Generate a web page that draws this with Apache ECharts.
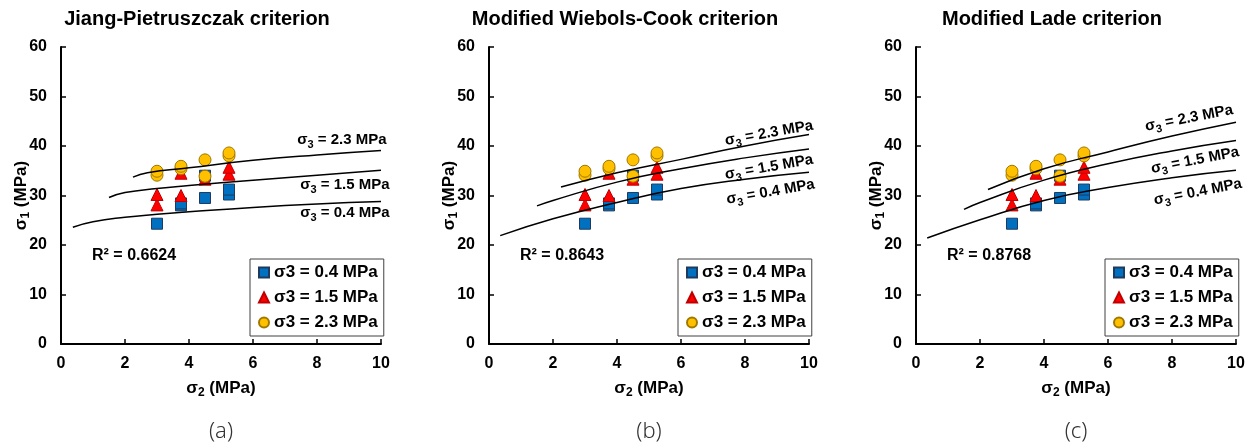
<!DOCTYPE html>
<html>
<head>
<meta charset="utf-8">
<script src="https://cdn.jsdelivr.net/npm/echarts@6/dist/echarts.min.js"></script>
<style>
  html, body { margin: 0; padding: 0; background: #fff; }
  #chart { width: 1254px; height: 446px; }
</style>
</head>
<body>
<div id="chart"></div>
<script>
  var panelTitles = ['Jiang-Pietruszczak criterion', 'Modified Wiebols-Cook criterion', 'Modified Lade criterion'];
  var panelTags = ['(a)', '(b)', '(c)'];
  var rSquared = ['0.6624', '0.8643', '0.8768'];
  var seriesNames = ['σ3 = 0.4 MPa', 'σ3 = 1.5 MPa', 'σ3 = 2.3 MPa'];
  var sigma3Levels = ['0.4', '1.5', '2.3'];

  // test data [sigma2, sigma1], same in all three panels
  var points04 = [[3.0, 24.3], [3.75, 28.0], [3.75, 28.4], [4.5, 29.5], [4.5, 34.0], [5.25, 30.2], [5.25, 31.2]];
  var points15 = [[3.0, 28.1], [3.0, 30.2], [3.75, 30.0], [3.75, 34.5], [4.5, 33.3], [5.25, 34.3], [5.25, 35.7]];
  var points23 = [[3.0, 34.1], [3.0, 34.9], [3.75, 35.4], [3.75, 35.9], [4.5, 33.9], [4.5, 37.2], [5.25, 38.0], [5.25, 38.6]];

  // predicted curves
  var jpCurve04 = [[0.37, 23.6], [1, 24.7], [2, 25.6], [3, 26.2], [4, 26.7], [6, 27.6], [8, 28.3], [10, 28.8]];
  var jpCurve15 = [[1.5, 29.6], [2, 30.6], [3, 31.4], [4, 32.0], [6, 33.1], [8, 34.1], [10, 35.1]];
  var jpCurve23 = [[2.25, 33.7], [2.7, 34.6], [4, 35.6], [6, 37.1], [8, 38.2], [10, 39.1]];

  var wcCurve04 = [[0.35, 21.9], [2, 25.3], [4, 28.6], [6, 31.4], [8, 33.3], [10, 34.7]];
  var wcCurve15 = [[1.5, 27.9], [2, 29.0], [4, 32.7], [6, 35.4], [8, 37.6], [10, 39.4]];
  var wcCurve23 = [[2.25, 31.7], [4, 34.6], [6, 37.3], [8, 40.0], [10, 42.3]];

  var ldCurve04 = [[0.35, 21.4], [2, 25.1], [4, 29.0], [6, 31.6], [8, 33.6], [10, 35.1]];
  var ldCurve15 = [[1.5, 27.2], [2, 28.6], [4, 33.1], [6, 36.4], [8, 39.0], [10, 41.1]];
  var ldCurve23 = [[2.25, 31.2], [4, 35.4], [6, 38.8], [8, 42.0], [10, 44.8]];

  var FONT = '"Liberation Sans", Arial, sans-serif';

  var panels = [
    { left: 61, curves: [jpCurve04, jpCurve15, jpCurve23], labelAt: [[8.87, 26.4], [8.87, 32.1], [8.78, 41.2]], rotate: 0 },
    { left: 489, curves: [wcCurve04, wcCurve15, wcCurve23], labelAt: [[8.8, 30.7], [8.75, 35.7], [8.75, 42.6]], rotate: 10 },
    { left: 916, curves: [ldCurve04, ldCurve15, ldCurve23], labelAt: [[8.81, 30.7], [8.72, 37.1], [8.53, 45.6]], rotate: 11 }
  ];

  var markerStyles = [
    { symbol: 'rect', size: 11, color: '#0070C0', border: '#1F3A5F' },
    { symbol: 'triangle', size: 12, color: '#FF0000', border: '#C00000' },
    { symbol: 'circle', size: 12, color: '#FFC000', border: '#A07800' }
  ];
  var testPoints = [points04, points15, points23];

  var axisNameRich = {
    m: { fontFamily: FONT, fontWeight: 'bold', fontSize: 17, color: '#000', lineHeight: 22 },
    s: { fontFamily: FONT, fontWeight: 'bold', fontSize: 12, color: '#000', lineHeight: 12, verticalAlign: 'bottom' }
  };

  var option = {
    backgroundColor: '#fff',
    animation: false,
    grid: [],
    xAxis: [],
    yAxis: [],
    legend: [],
    series: [],
    graphic: []
  };

  panels.forEach(function(p, i) {
    option.grid.push({ left: p.left, top: 47, width: 320, height: 297 });

    option.xAxis.push({
      gridIndex: i, type: 'value', min: 0, max: 10, interval: 2,
      name: '{m|σ}{s|2}{m| (MPa)}', nameLocation: 'middle', nameGap: 33, nameMoveOverlap: false,
      nameTextStyle: { rich: axisNameRich },
      axisLine: { lineStyle: { color: '#000', width: 2 } },
      axisTick: { inside: true, length: 5, lineStyle: { color: '#000', width: 1.5 } },
      axisLabel: { fontFamily: FONT, fontWeight: 'bold', fontSize: 16, color: '#000', margin: 12 },
      splitLine: { show: false }
    });

    option.yAxis.push({
      gridIndex: i, type: 'value', min: 0, max: 60, interval: 10,
      name: '{m|σ}{s|1}{m| (MPa)}', nameLocation: 'middle', nameGap: 29, nameMoveOverlap: false,
      nameTextStyle: { rich: axisNameRich },
      axisLine: { lineStyle: { color: '#000', width: 2 } },
      axisTick: { inside: true, length: 5, lineStyle: { color: '#000', width: 1.5 } },
      axisLabel: { fontFamily: FONT, fontWeight: 'bold', fontSize: 16, color: '#000', margin: 14 },
      splitLine: { show: false }
    });

    // model curves with their labels
    p.curves.forEach(function(curve, k) {
      var s = {
        name: 'curve-' + i + '-' + k,
        type: 'line',
        xAxisIndex: i, yAxisIndex: i,
        data: curve,
        smooth: true,
        showSymbol: false,
        silent: true,
        lineStyle: { color: '#000', width: 1.5 },
        markPoint: {
          symbol: 'circle', symbolSize: 1,
          itemStyle: { color: 'rgba(0,0,0,0)' },
          label: {
            show: true, position: 'inside', rotate: p.rotate,
            formatter: '{m|σ}{s|3}{m| = ' + sigma3Levels[k] + ' MPa}',
            rich: {
              m: { fontFamily: FONT, fontWeight: 'bold', fontSize: 15, color: '#000', lineHeight: 21 },
              s: { fontFamily: FONT, fontWeight: 'bold', fontSize: 11, color: '#000', lineHeight: 11, verticalAlign: 'bottom' }
            }
          },
          data: [{ coord: p.labelAt[k] }]
        }
      };
      if (k === 0) {
        s.markPoint.data.push({
          coord: [0.97, 17.8],
          label: {
            formatter: 'R² = ' + rSquared[i], align: 'left', rotate: 0,
            fontFamily: FONT, fontWeight: 'bold', fontSize: 16, color: '#000'
          }
        });
      }
      option.series.push(s);
    });

    // test points
    testPoints.forEach(function(pts, k) {
      var m = markerStyles[k];
      option.series.push({
        name: seriesNames[k],
        type: 'scatter',
        xAxisIndex: i, yAxisIndex: i,
        data: pts,
        symbol: m.symbol,
        symbolSize: m.size,
        itemStyle: { color: m.color, borderColor: m.border, borderWidth: 1, opacity: 1 }
      });
    });

    option.legend.push({
      data: seriesNames,
      left: p.left + 189, top: 259,
      orient: 'vertical',
      itemWidth: 10, itemHeight: 10, itemGap: 8,
      padding: [5, 6, 5, 8],
      borderColor: '#404040', borderWidth: 1,
      backgroundColor: '#fff',
      selectedMode: false,
      textStyle: { fontFamily: FONT, fontWeight: 'bold', fontSize: 17, color: '#000' }
    });

    option.graphic.push({
      type: 'text', x: p.left + 136, y: 19, silent: true,
      style: { text: panelTitles[i], fontFamily: FONT, fontWeight: 'bold', fontSize: 20, fill: '#000', align: 'center', verticalAlign: 'middle' }
    });
    option.graphic.push({
      type: 'text', x: p.left + 160, y: 432, silent: true,
      style: { text: panelTags[i], fontFamily: '"Noto Sans", sans-serif', fontWeight: 300, fontSize: 22, fill: '#333', align: 'center', verticalAlign: 'middle' }
    });
  });

  var chart = echarts.init(document.getElementById('chart'));
  chart.setOption(option);
</script>
</body>
</html>
